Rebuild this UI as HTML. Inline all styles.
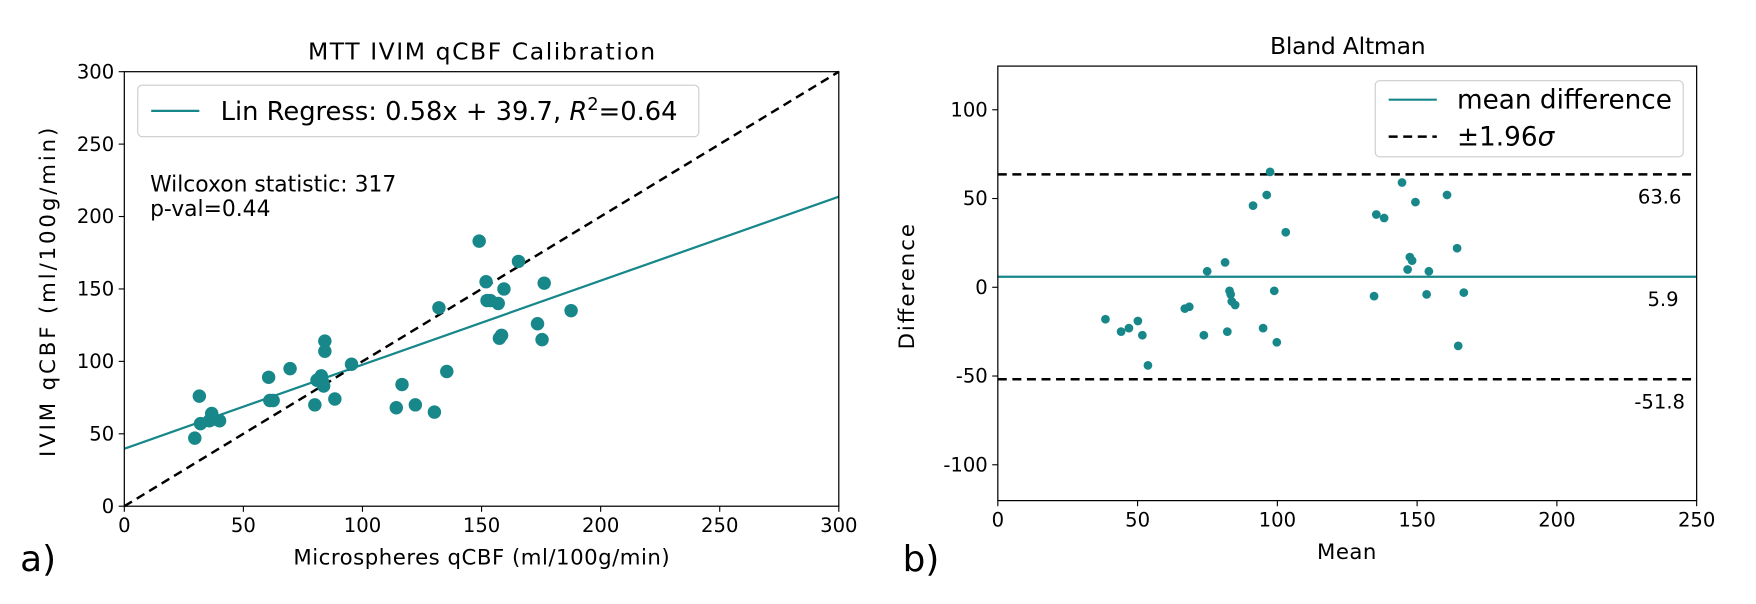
<!DOCTYPE html>
<html><head><meta charset="utf-8"><style>
body{margin:0;background:#fff;overflow:hidden}
svg{font-family:"DejaVu Sans","Liberation Sans",sans-serif;display:block}
</style></head><body>
<svg id="s" width="1756" height="604" viewBox="0 0 1568 539.3" xmlns="http://www.w3.org/2000/svg"></svg>
<script>
const leftX=[29.6,31.5,32,35.7,36.7,37.1,40,60.6,61.1,62.5,69.6,80,80.9,82.7,83.2,83.7,84.2,84.2,88.4,95.4,114.2,116.6,122.2,130.2,132.1,135.4,149,151.9,152.3,153.7,157,157.5,158.4,159.4,165.5,173.5,175.4,176.3,187.6];
const leftY=[47,76,57,59,64,60,59,89,73,73,95,70,87,90,86,83,114,107,74,98,68,84,70,65,137,93,183,155,142,142,140,116,118,150,169,126,115,154,135];
const baX=[38.5,44.1,46.9,50.1,51.7,53.7,66.9,68.5,73.7,74.9,81.3,82.1,82.9,83.3,83.7,84.9,91.3,94.9,96.2,97.4,98.9,99.8,103,134.6,135.4,138.2,144.6,146.6,147.4,148.2,149.4,153.4,154.2,160.7,164.3,164.7,166.7];
const baY=[-18,-25,-23,-19,-27,-44,-12,-11,-27,9,14,-25,-2,-4,-8,-10,46,-23,52,65,-2,-31,31,-5,41,39,59,10,17,15,48,-4,9,52,22,-33,-3];
const leftTicks=[0,50,100,150,200,250,300];
const baXTicks=[0,50,100,150,200,250];
const baYTicks=[-100,-50,0,50,100];
const slope=0.58, icpt=39.7, meanD=5.9, upper=63.6, lower=-51.8;
const C='#17878a';
const TF=17.5;
const s=document.getElementById('s');
function el(t,a,txt){const e=document.createElementNS('http://www.w3.org/2000/svg',t);for(const k in a)e.setAttribute(k,a[k]);if(txt!==undefined)e.textContent=txt;s.appendChild(e);return e;}
const lx=v=>111+v*(638/300), ly=v=>452-v*(388/300);
const rx=v=>891+v*(624/250), ry=v=>256.5-v*(317/200);
let e;
e=el('text',{x:275,y:53,'font-size':21,textLength:310,lengthAdjust:'spacing'},'MTT IVIM qCBF Calibration');


e=el('text',{x:1134,y:48,'font-size':21,textLength:139,lengthAdjust:'spacing'},'Bland Altman');


e=el('line',{x1:lx(0),y1:ly(icpt),x2:lx(300),y2:ly(icpt+slope*300),stroke:C,'stroke-width':2});


e=el('line',{x1:lx(0),y1:ly(0),x2:lx(300),y2:ly(300),stroke:'#000','stroke-width':2.2,'stroke-dasharray':'8,5'});


for(let i=0;i<leftX.length;i++){e=el('circle',{cx:lx(leftX[i]),cy:ly(leftY[i]),r:6,fill:C});

}
e=el('rect',{x:111,y:64,width:638,height:388,fill:'none',stroke:'#000','stroke-width':1.1});


leftTicks.forEach(t=>{
 el('line',{x1:lx(t),y1:452,x2:lx(t),y2:457,stroke:'#000'});
 e=el('text',{x:lx(t),y:475,'font-size':TF,'text-anchor':'middle'},t);
 
 
 el('line',{x1:106,y1:ly(t),x2:111,y2:ly(t),stroke:'#000'});
 e=el('text',{x:102,y:ly(t)+6,'font-size':TF,'text-anchor':'end'},t);
 
 
});
e=el('text',{x:262,y:504,'font-size':19,textLength:336,lengthAdjust:'spacing'},'Microspheres qCBF (ml/100g/min)');


e=el('text',{x:49,y:408,'font-size':19,textLength:294,lengthAdjust:'spacing',transform:'rotate(-90 49 408)'},'IVIM qCBF (ml/100g/min)');


e=el('rect',{x:123,y:76,width:501,height:46,rx:4,fill:'#fff',stroke:'#ccc'});


el('line',{x1:135,y1:99,x2:178,y2:99,stroke:C,'stroke-width':2});
e=el('text',{x:197,y:107,'font-size':23});


e.innerHTML='Lin Regress: 0.58x + 39.7, <tspan font-style="italic">R</tspan><tspan dy="-9" font-size="16">2</tspan><tspan dy="9">=0.64</tspan>';
e=el('text',{x:134,y:171,'font-size':19.5},'Wilcoxon statistic: 317');


e=el('text',{x:134,y:193,'font-size':19.5},'p-val=0.44');


e=el('text',{x:18,y:510,'font-size':32},'a)');


[[upper,'63.6'],[lower,'-51.8']].forEach(([v,l])=>{
 e=el('line',{x1:891,y1:ry(v),x2:1515,y2:ry(v),stroke:'#000','stroke-width':2.2,'stroke-dasharray':'8,5'});
 
 
 e=el('text',{x:1482,y:ry(v)+26,'font-size':TF,'text-anchor':'middle'},l);
 
 
});
e=el('line',{x1:891,y1:ry(meanD),x2:1515,y2:ry(meanD),stroke:C,'stroke-width':2});


e=el('text',{x:1485,y:ry(meanD)+26,'font-size':TF,'text-anchor':'middle'},'5.9');


for(let i=0;i<baX.length;i++){e=el('circle',{cx:rx(baX[i]),cy:ry(baY[i]),r:3.9,fill:C});

}
e=el('rect',{x:891,y:59,width:624,height:388,fill:'none',stroke:'#000','stroke-width':1.1});


baXTicks.forEach(t=>{
 el('line',{x1:rx(t),y1:447,x2:rx(t),y2:452,stroke:'#000'});
 e=el('text',{x:rx(t),y:470,'font-size':TF,'text-anchor':'middle'},t);
 
 
});
baYTicks.forEach(t=>{
 el('line',{x1:886,y1:ry(t),x2:891,y2:ry(t),stroke:'#000'});
 e=el('text',{x:882,y:ry(t)+6,'font-size':TF,'text-anchor':'end'},t);
 
 
});
e=el('text',{x:1176,y:499,'font-size':19,textLength:53,lengthAdjust:'spacing'},'Mean');


e=el('text',{x:816,y:312,'font-size':19,textLength:112,lengthAdjust:'spacing',transform:'rotate(-90 816 312)'},'Difference');


e=el('rect',{x:1228,y:72,width:275,height:68,rx:4,fill:'#fff',stroke:'#ccc'});


el('line',{x1:1240,y1:89,x2:1283,y2:89,stroke:C,'stroke-width':2});
e=el('text',{x:1301,y:97,'font-size':23.5},'mean difference');


el('line',{x1:1240,y1:122,x2:1283,y2:122,stroke:'#000','stroke-width':2.2,'stroke-dasharray':'8,5'});
e=el('text',{x:1301,y:130,'font-size':23.5});


e.innerHTML='±1.96<tspan font-style="italic">σ</tspan>';
e=el('text',{x:806,y:510,'font-size':32},'b)');


</script>
</body></html>
